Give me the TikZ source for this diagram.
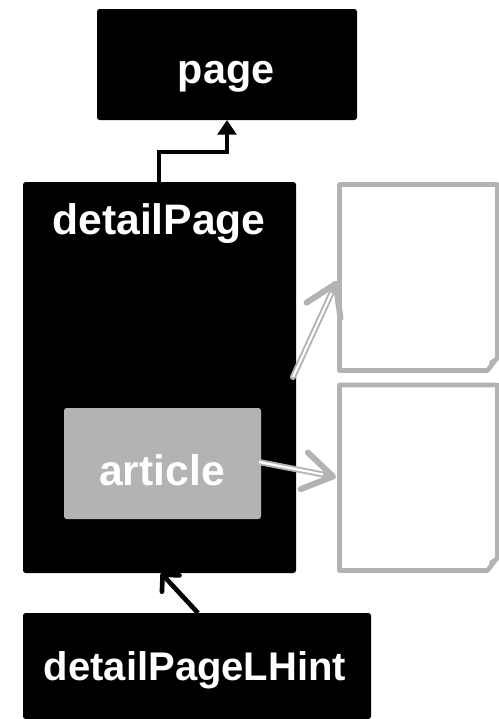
\documentclass[tikz,border=0pt]{standalone}
\usepackage{fontspec}
\setmainfont{Liberation Sans}
\usetikzlibrary{arrows.meta}
\definecolor{ltgray}{RGB}{179,179,179}
\tikzset{
  blackbox/.style={fill=black, rounded corners=2},
  label/.style={text=white, font=\fontsize{30}{36}\selectfont\bfseries, anchor=base, inner sep=0},
  biglabel/.style={label, font=\fontsize{32}{38}\selectfont\bfseries},
  notesheet/.style={draw=ltgray, line width=3.5, line join=round},
  refarrow/.style={draw=ltgray, line width=4.5, line cap=round,
    -{Straight Barb[length=22, width=28, line width=4.5, round]}},
  refcore/.style={draw=white, line width=1.6},
  solidarrow/.style={line width=3, -{Triangle[length=11, width=14]}},
  openarrow/.style={line width=3.5, -{Straight Barb[length=9, width=18, line width=3.5, round]}}
}
\begin{document}
\begin{tikzpicture}[x=0.75pt, y=-0.75pt]
  \useasboundingbox (0,0) rectangle (499,719);

  % boxes
  \fill[blackbox] (97,9) rectangle (357,120);
  \node[label, font=\fontsize{31}{37}\selectfont\bfseries] (page) at (226,83) {page};
  \coordinate (pageBottom) at (227,120);

  \fill[blackbox] (23,182) rectangle (296,573);
  \node[biglabel] (detailPage) at (159,234) {detailPage};
  \coordinate (dpTop) at (158.5,182);
  \coordinate (dpRight) at (293,377);
  \coordinate (dpBottom) at (161,573);

  \fill[ltgray, rounded corners=2] (64,408) rectangle (261,519);
  \node[biglabel] (article) at (162,485) {article};
  \coordinate (articleRight) at (259,462);

  \fill[blackbox] (23,613) rectangle (371,719);
  \node[label] (hint) at (195,680) {detailPageLHint};
  \coordinate (hintTop) at (198,613);

  % note sheets with folded corner
  \foreach \t/\b/\n in {184.5/370.5/noteA, 385/570.5/noteB}{
    \draw[notesheet] (339.5,\t) -- (497.5,\t) -- (497.5,\b-13) -- (487.5,\b) -- (339.5,\b) -- cycle;
    \fill[ltgray] (497.5,\b-14) -- (490,\b-10) -- (487,\b+1.5) -- cycle;
    \coordinate (\n) at (339.5,{(\t+\b)/2});
  }
  \coordinate (noteAIn) at (337,281);
  \coordinate (noteBIn) at (336,477);

  % connectors
  \draw[solidarrow] (dpTop) -- (158.5,152) -- (227,152) -- (pageBottom);
  \draw[openarrow] (hintTop) -- (dpBottom);

  \draw[refarrow] (dpRight) -- (noteAIn);
  \draw[refcore, shorten >=10] (dpRight) -- (noteAIn);
  \draw[refarrow] (articleRight) -- (noteBIn);
  \draw[refcore, shorten >=10] (articleRight) -- (noteBIn);
\end{tikzpicture}
\end{document}
